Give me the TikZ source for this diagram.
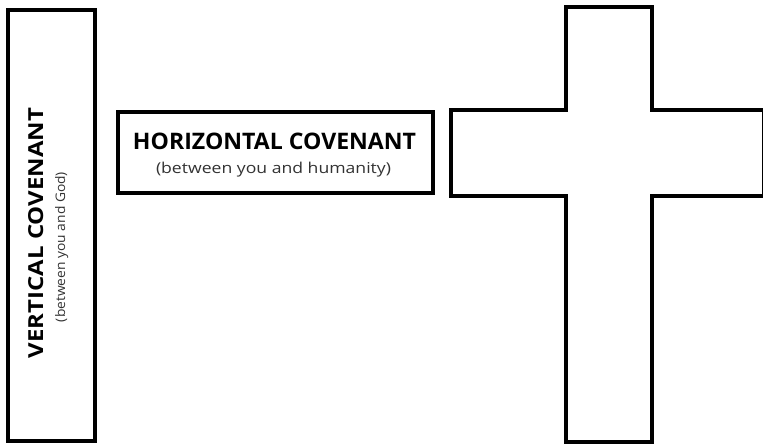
\documentclass[tikz,border=0pt]{standalone}
\usepackage{fontspec}
\setmainfont{Open Sans}
\usepackage{graphicx}
\tikzset{
  frame/.style={draw=black, line width=3.6pt, fill=white, inner sep=0pt},
  crossline/.style={draw=black, line width=3.2pt, line join=miter},
  titletext/.style={inner sep=0pt, anchor=base, text=black, font=\bfseries},
  subtext/.style={inner sep=0pt, anchor=base, text=black!80, font=\normalfont},
}
\begin{document}
\begin{tikzpicture}[x=1pt, y=-1pt]
\useasboundingbox (0,0) rectangle (763,445);
\fill[white] (0,0) rectangle (763,445);
% vertical covenant box
\node[frame, minimum width=87pt, minimum height=431pt] (vbox) at (51.5,225.5) {};
\node[titletext, rotate=90] (vtitle) at (43,233) {\resizebox{250pt}{15pt}{VERTICAL COVENANT}};
\node[subtext, rotate=90] (vsub) at (65,247) {\resizebox{150pt}{10pt}{(between you and God)}};
% horizontal covenant box
\node[frame, minimum width=315pt, minimum height=81pt] (hbox) at (275.5,152.5) {};
\node[titletext] (htitle) at (274.5,149) {\resizebox{283pt}{16.5pt}{HORIZONTAL COVENANT}};
\node[subtext] (hsub) at (273.5,173) {\resizebox{235pt}{11.4pt}{(between you and humanity)}};
% cross
\draw[crossline] (566,7) -- (652,7) -- (652,110) -- (764,110) -- (764,196)
  -- (652,196) -- (652,442) -- (566,442) -- (566,196) -- (451,196)
  -- (451,110) -- (566,110) -- cycle;
\end{tikzpicture}
\end{document}
